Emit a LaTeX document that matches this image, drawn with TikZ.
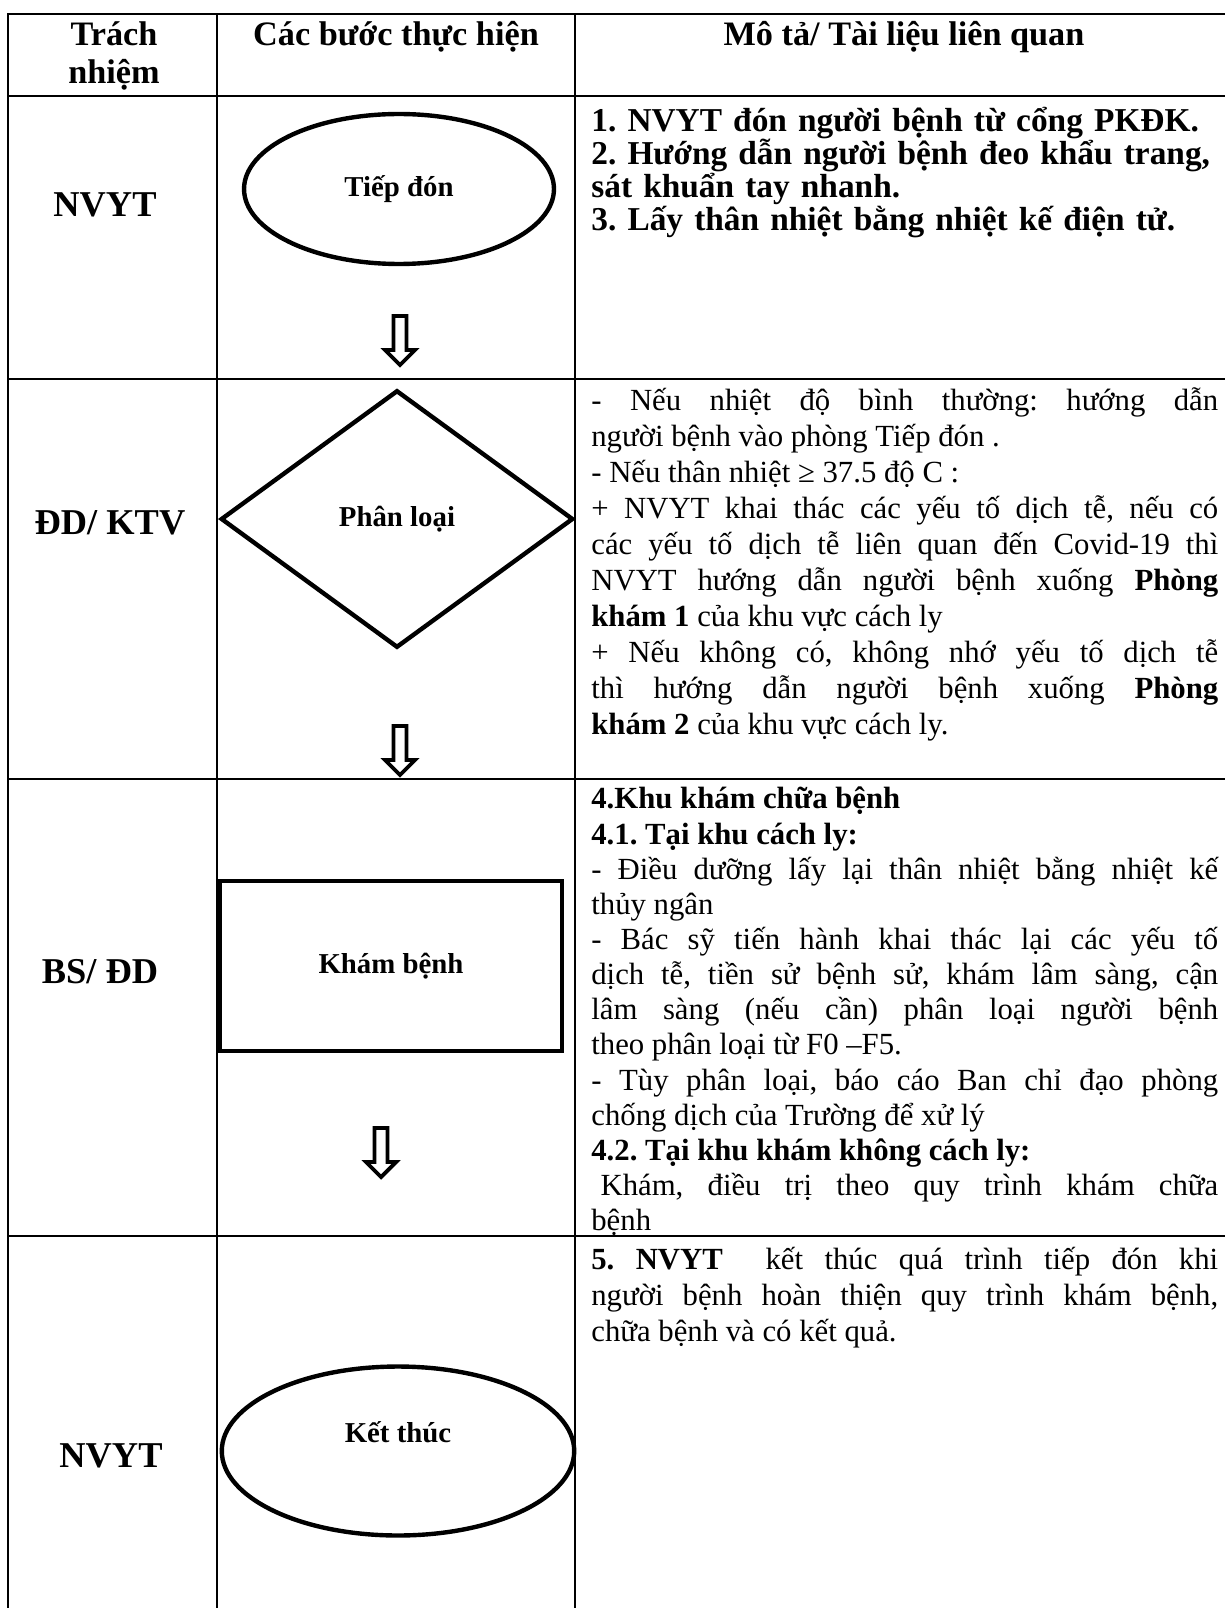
\documentclass[tikz,border=0pt]{standalone}
\usepackage{fontspec}
\setmainfont{Liberation Serif}
\usepackage{tikz}
\usetikzlibrary{shapes.geometric}
\tolerance=10000
\hyphenpenalty=10000
\frenchspacing
\newcommand\fixlines{\lineskiplimit=-\maxdimen\normallineskiplimit=-\maxdimen}

\begin{document}
\begin{tikzpicture}[x=0.02cm,y=-0.02cm,
  grid/.style={line width=1.5pt},
  shapeline/.style={draw,line width=2.5pt},
  who/.style={font=\fontsize{20.7}{24}\selectfont\bfseries},
  head/.style={font=\fontsize{19.5}{21.6}\selectfont\bfseries,align=center},
  steplabel/.style={font=\fontsize{16.4}{19}\selectfont\bfseries},
  desc/.style={anchor=north west,inner sep=0pt,text width=12.54cm,align=justify,
    font=\fontsize{17.5}{20.5}\selectfont\fixlines}]
\useasboundingbox (0,0) rectangle (1225,1608);
%% table
\draw[grid] (8,1608) -- (8,14) -- (1225,14);
\foreach \ry in {96,379,779,1236}
  \draw[grid] (8,\ry) -- (1225,\ry);
\foreach \cx in {217,575}
  \draw[grid] (\cx,14) -- (\cx,1608);

%% header
\node[head] (hwho) at (114,56) {Trách\\nhiệm};
\node[head] (hsteps) at (396,37) {Các bước thực hiện};
\node[head] (hdesc) at (904,37) {Mô tả/ Tài liệu liên quan};

%% who
\node[who] (who1) at (105,205) {NVYT};
\node[who] (who2) at (110,523) {ĐD/ KTV};
\node[who] (who3) at (100,972) {BS/ ĐD};
\node[who] (who4) at (111,1456) {NVYT};

%% steps
\node[ellipse,shapeline,steplabel,minimum width=6.2cm,minimum height=3.0cm] (tiepdon) at (399,189) {Tiếp đón};
\node[diamond,shapeline,steplabel,minimum width=7.05cm,minimum height=5.15cm] (phanloai) at (397,519) {Phân loại};
\node[rectangle,shapeline,steplabel,minimum width=6.85cm,minimum height=3.4cm] (khambenh) at (391,966) {Khám bệnh};
\node[ellipse,shapeline,minimum width=7.05cm,minimum height=3.38cm,
  label={[steplabel,yshift=0.38cm]center:Kết thúc}] (ketthuc) at (398,1451) {};

\foreach \ax/\ay in {400/314, 400/724, 381/1126}
  \draw[shift={(\ax,\ay)},line width=2.2pt,line join=miter]
    (-6.5,2) -- (6.5,2) -- (6.5,36) -- (15,36) -- (0,51) -- (-15,36) -- (-6.5,36) -- cycle;

%% description
\node[desc,text width=13cm,align=left,font=\fontsize{19}{18.8}\selectfont\bfseries\fixlines] (mota1) at (591,107)
  {\strut 1. NVYT đón người bệnh từ cổng PKĐK.\\
   2. Hướng dẫn người bệnh đeo khẩu trang,\\
   sát khuẩn tay nhanh.\\
   3. Lấy thân nhiệt bằng nhiệt kế điện tử.};
\node[desc] (mota2) at (591,385)
  {\strut - Nếu nhiệt độ bình thường: hướng dẫn\linebreak
   người bệnh vào phòng Tiếp đón .\\
   - Nếu thân nhiệt ≥ 37.5 độ C :\\
   + NVYT khai thác các yếu tố dịch tễ, nếu có\linebreak
   các yếu tố dịch tễ liên quan đến Covid-19 thì\linebreak
   NVYT hướng dẫn người bệnh xuống \textbf{Phòng}\linebreak
   \textbf{khám 1} của khu vực cách ly\\
   + Nếu không có, không nhớ yếu tố dịch tễ\linebreak
   thì hướng dẫn người bệnh xuống \textbf{Phòng}\linebreak
   \textbf{khám 2} của khu vực cách ly.};
\node[desc,font=\fontsize{17.5}{20}\selectfont\fixlines] (mota3) at (591,784)
  {\strut\textbf{4.Khu khám chữa bệnh}\\
   \textbf{4.1. Tại khu cách ly:}\\
   - Điều dưỡng lấy lại thân nhiệt bằng nhiệt kế\linebreak
   thủy ngân\\
   - Bác sỹ tiến hành khai thác lại các yếu tố\linebreak
   dịch tễ, tiền sử bệnh sử, khám lâm sàng, cận\linebreak
   lâm sàng (nếu cần) phân loại người bệnh\linebreak
   theo phân loại từ F0 –F5.\\
   - Tùy phân loại, báo cáo Ban chỉ đạo phòng\linebreak
   chống dịch của Trường để xử lý\\
   \textbf{4.2. Tại khu khám không cách ly:}\\
   \hspace*{0.3em}Khám, điều trị theo quy trình khám chữa\linebreak
   bệnh};
\node[desc] (mota4) at (591,1244)
  {\strut\textbf{5. NVYT}\ \ kết thúc quá trình tiếp đón khi\linebreak
   người bệnh hoàn thiện quy trình khám bệnh,\linebreak
   chữa bệnh và có kết quả.};
\end{tikzpicture}
\end{document}
